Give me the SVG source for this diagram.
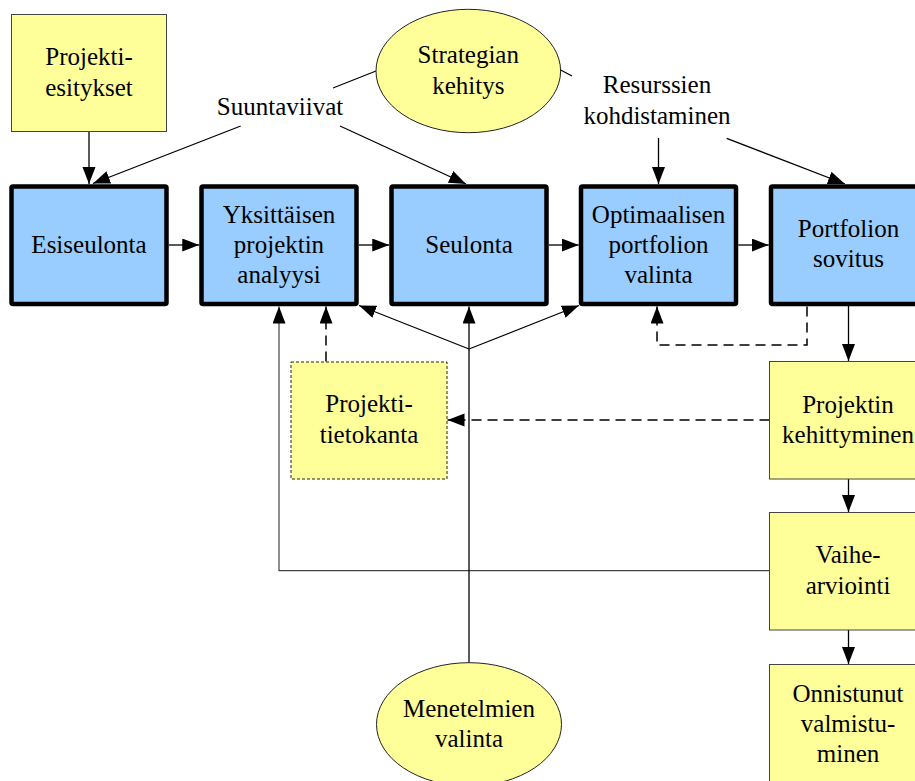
<svg xmlns="http://www.w3.org/2000/svg" width="915" height="781" viewBox="0 0 915 781">
  <style>
    .lbl { font-family: 'Liberation Serif', 'DejaVu Serif', serif; font-size: 25px; fill: #000; text-anchor: middle; }
    .stage { fill: #99ccff; stroke: #000; stroke-width: 4.5; stroke-linejoin: round; }
    .note { fill: #ffff99; stroke: #444; stroke-width: 1; }
    .db { fill: #ffff99; stroke: #222; stroke-width: 1; stroke-dasharray: 3 2; }
    .oval { fill: #ffff99; stroke: #222; stroke-width: 1; }
    .link { fill: none; stroke: #000; stroke-width: 1.3; }
    .plain { fill: none; stroke: #000; stroke-width: 1.2; }
    .back { fill: none; stroke: #444; stroke-width: 1.2; }
    .dash { fill: none; stroke: #000; stroke-width: 1.5; stroke-dasharray: 10 6; }
  </style>
  <defs>
    <marker id="arrow" markerUnits="userSpaceOnUse" markerWidth="18" markerHeight="14" refX="17" refY="6.5" orient="auto">
      <path d="M0,0 L17,6.5 L0,13 z" fill="#000"/>
    </marker>
  </defs>

  <!-- connectors -->
  <g id="connectors">
    <path class="link" d="M89,132 V184" marker-end="url(#arrow)"/>
    <path class="plain" d="M376,71 L333,88"/>
    <path class="plain" d="M560.7,70 L572,76"/>
    <path class="link" d="M240.7,126 L93,183.5" marker-end="url(#arrow)"/>
    <path class="link" d="M340,126 L466,184" marker-end="url(#arrow)"/>
    <path class="link" d="M658.5,138 V184" marker-end="url(#arrow)"/>
    <path class="link" d="M726.7,138.3 L845,184" marker-end="url(#arrow)"/>

    <path class="link" d="M168.75,245 H199.25" marker-end="url(#arrow)"/>
    <path class="link" d="M358.75,245 H389.25" marker-end="url(#arrow)"/>
    <path class="link" d="M548.75,245 H578.75" marker-end="url(#arrow)"/>
    <path class="link" d="M738.25,245 H768.75" marker-end="url(#arrow)"/>

    <path class="link" d="M848.5,306 V361" marker-end="url(#arrow)"/>
    <path class="link" d="M848.5,479 V512" marker-end="url(#arrow)"/>
    <path class="link" d="M848.5,630 V664" marker-end="url(#arrow)"/>

    <path class="dash" d="M807,306.5 V345 H657 V306.5" marker-end="url(#arrow)"/>
    <path class="dash" d="M326,361.5 V306.5" marker-end="url(#arrow)"/>
    <path class="dash" d="M769.5,420 H447.5" marker-end="url(#arrow)"/>

    <path class="back" d="M769.5,570.7 H279 V306.5" marker-end="url(#arrow)"/>
    <path class="link" d="M469,662.7 V306.5" marker-end="url(#arrow)"/>
    <path class="plain" d="M469,349 L359,305.5" marker-end="url(#arrow)"/>
    <path class="plain" d="M469,349 L579,305.5" marker-end="url(#arrow)"/>
  </g>

  <!-- inputs and labels -->
  <g id="projektiesitykset">
    <rect class="note" x="11.5" y="14.5" width="155" height="117"/>
    <text class="lbl" font-family="Liberation Serif, serif" x="89" y="65.3">Projekti-</text>
    <text class="lbl" font-family="Liberation Serif, serif" x="89" y="95.7">esitykset</text>
  </g>
  <g id="strategian-kehitys">
    <ellipse class="oval" cx="468.3" cy="71" rx="92.3" ry="61.7"/>
    <text class="lbl" x="468.3" y="63.3">Strategian</text>
    <text class="lbl" x="468.3" y="94">kehitys</text>
  </g>
  <g id="suuntaviivat">
    <text class="lbl" x="280" y="115">Suuntaviivat</text>
  </g>
  <g id="resurssien-kohdistaminen">
    <text class="lbl" x="657" y="93.3">Resurssien</text>
    <text class="lbl" x="657" y="124">kohdistaminen</text>
  </g>

  <!-- process stages -->
  <g id="esiseulonta">
    <rect class="stage" x="11.5" y="186.5" width="155" height="117.5" rx="1.5"/>
    <text class="lbl" x="89" y="252.5">Esiseulonta</text>
  </g>
  <g id="yksittaisen-projektin-analyysi">
    <rect class="stage" x="201.5" y="186.5" width="155" height="117.5" rx="1.5"/>
    <text class="lbl" x="279" y="222.5">Yksittäisen</text>
    <text class="lbl" x="279" y="252.5">projektin</text>
    <text class="lbl" x="279" y="282.5">analyysi</text>
  </g>
  <g id="seulonta">
    <rect class="stage" x="391.5" y="186.5" width="155" height="117.5" rx="1.5"/>
    <text class="lbl" x="469" y="252.5">Seulonta</text>
  </g>
  <g id="optimaalisen-portfolion-valinta">
    <rect class="stage" x="581" y="186.5" width="155" height="117.5" rx="1.5"/>
    <text class="lbl" x="658.5" y="222.5">Optimaalisen</text>
    <text class="lbl" x="658.5" y="252.5">portfolion</text>
    <text class="lbl" x="658.5" y="282.5">valinta</text>
  </g>
  <g id="portfolion-sovitus">
    <rect class="stage" x="771" y="186.5" width="155" height="117.5" rx="1.5"/>
    <text class="lbl" x="848.5" y="237.3">Portfolion</text>
    <text class="lbl" x="848.5" y="267.3">sovitus</text>
  </g>

  <!-- project database -->
  <g id="projektitietokanta">
    <rect class="db" x="291" y="362" width="156" height="117"/>
    <text class="lbl" x="369" y="411.7">Projekti-</text>
    <text class="lbl" x="369" y="443.3">tietokanta</text>
  </g>

  <!-- project lifecycle -->
  <g id="projektin-kehittyminen">
    <rect class="note" x="769.5" y="361.5" width="157" height="117.5"/>
    <text class="lbl" x="848" y="412.7">Projektin</text>
    <text class="lbl" x="848" y="443.3">kehittyminen</text>
  </g>
  <g id="vaihearviointi">
    <rect class="note" x="769.5" y="512.5" width="157" height="117.5"/>
    <text class="lbl" x="848" y="562.7">Vaihe-</text>
    <text class="lbl" x="848" y="594">arviointi</text>
  </g>
  <g id="onnistunut-valmistuminen">
    <rect class="note" x="769.5" y="664.5" width="157" height="117.5"/>
    <text class="lbl" x="848" y="701.7">Onnistunut</text>
    <text class="lbl" x="848" y="731.7">valmistu-</text>
    <text class="lbl" x="848" y="761.7">minen</text>
  </g>

  <g id="menetelmien-valinta">
    <ellipse class="oval" cx="469" cy="724.4" rx="92.5" ry="61.7"/>
    <text class="lbl" x="469" y="716.7">Menetelmien</text>
    <text class="lbl" x="469" y="746.7">valinta</text>
  </g>
</svg>
